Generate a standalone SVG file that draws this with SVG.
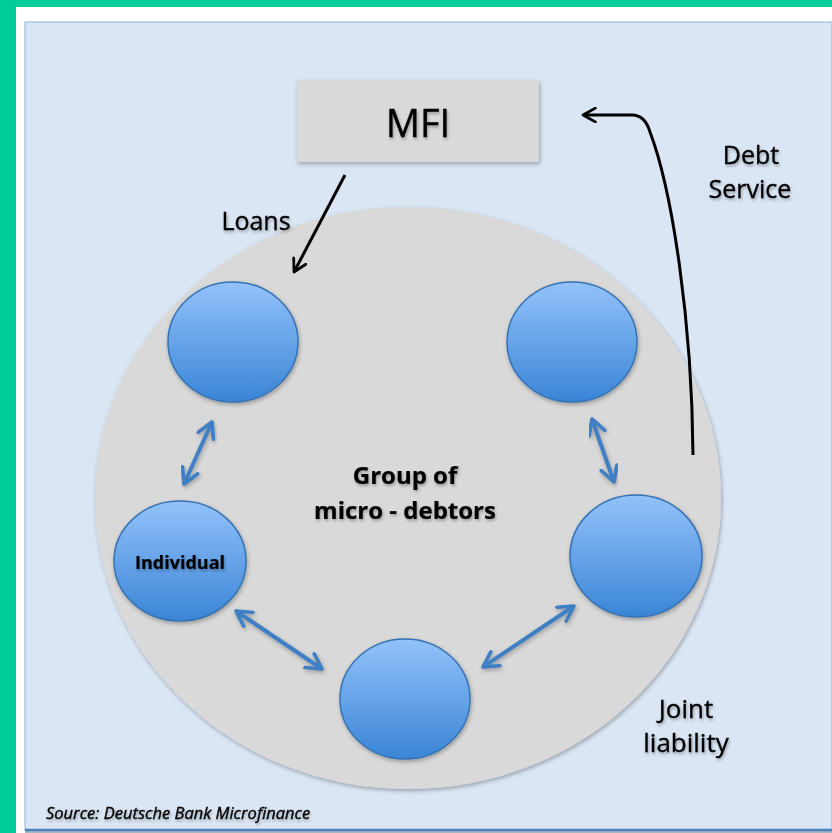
<svg xmlns="http://www.w3.org/2000/svg" width="832" height="833" viewBox="0 0 832 833">
  <defs>
    <linearGradient id="ballFill" x1="0" y1="0" x2="0" y2="1">
      <stop offset="0" stop-color="#93c2fb"/>
      <stop offset="1" stop-color="#3a85d6"/>
    </linearGradient>
    <filter id="softShadow" x="-10%" y="-10%" width="125%" height="125%">
      <feDropShadow dx="1" dy="2" stdDeviation="2" flood-color="#000" flood-opacity="0.3"/>
    </filter>
    <filter id="textShadow" x="-10%" y="-20%" width="120%" height="150%">
      <feDropShadow dx="1" dy="2" stdDeviation="1.5" flood-color="#000" flood-opacity="0.3"/>
    </filter>
    <marker id="openHeadBlack" viewBox="0 0 12 12" refX="10" refY="6" markerWidth="5.5" markerHeight="5.5" orient="auto-start-reverse" markerUnits="strokeWidth">
      <path d="M1,1 L10,6 L1,11" fill="none" stroke="#000" stroke-width="2" stroke-linecap="round" stroke-linejoin="round"/>
    </marker>
    <marker id="openHeadBlue" viewBox="0 0 12 12" refX="10" refY="6" markerWidth="5" markerHeight="5" orient="auto-start-reverse" markerUnits="strokeWidth">
      <path d="M1,1 L10,6 L1,11" fill="none" stroke="#3f7fc4" stroke-width="2.2" stroke-linecap="round" stroke-linejoin="round"/>
    </marker>
    <style>
      .label { font-family: "Open Sans", "Liberation Sans", sans-serif; fill: #000; stroke: #000; stroke-width: 0.35; filter: url(#textShadow); }
      .bold { font-weight: bold; stroke-width: 0.2; }
      .ball { fill: url(#ballFill); stroke: #3572b4; stroke-width: 1.5; filter: url(#softShadow); }
      .link { fill: none; stroke: #3f7fc4; stroke-width: 4; marker-start: url(#openHeadBlue); marker-end: url(#openHeadBlue); filter: url(#softShadow); }
      .flow { fill: none; stroke: #000; stroke-width: 3; marker-end: url(#openHeadBlack); }
    </style>
  </defs>

  <!-- outer frame -->
  <rect x="0" y="0" width="832" height="833" fill="#00cc99"/>
  <rect x="16" y="7" width="816" height="826" fill="#ffffff"/>
  <rect x="25" y="22" width="807" height="811" fill="#a9b6c4"/>
  <rect x="25" y="22" width="807" height="808" fill="#dae6f4" stroke="#94b3d4" stroke-width="1"/>
  <line x1="25" y1="830" x2="832" y2="830" stroke="#4f81bd" stroke-width="2.5"/>

  <!-- group area -->
  <ellipse id="group-area" cx="408" cy="498" rx="313" ry="291" fill="#d9d9d9" filter="url(#softShadow)"/>

  <!-- MFI -->
  <g id="mfi">
    <rect x="297" y="80" width="242" height="82" fill="#d9d9d9" filter="url(#softShadow)"/>
    <text class="label" x="418" y="137" font-size="38" text-anchor="middle">MFI</text>
  </g>

  <!-- members -->
  <g id="member-top-left">
    <ellipse class="ball" cx="233" cy="342" rx="65" ry="60"/>
  </g>
  <g id="member-top-right">
    <ellipse class="ball" cx="572" cy="342" rx="65" ry="60"/>
  </g>
  <g id="member-individual">
    <ellipse class="ball" cx="180" cy="561" rx="66" ry="60"/>
    <text class="label bold" x="180" y="569" font-size="18" text-anchor="middle">Individual</text>
  </g>
  <g id="member-bottom">
    <ellipse class="ball" cx="405" cy="699" rx="65" ry="60"/>
  </g>
  <g id="member-right">
    <ellipse class="ball" cx="636" cy="556" rx="66" ry="61"/>
  </g>

  <!-- connectors -->
  <g id="connectors">
    <path class="flow" d="M345,175 L294,272"/>
    <path class="flow" d="M693,455 C692,320 672,190 650,132 Q645,115 632,115 L583,115"/>
    <path class="link" d="M344,339 L466,339"/>
    <path class="link" d="M592,419 L614,482"/>
    <path class="link" d="M212,422 L184,484"/>
    <path class="link" d="M236,611 L322,669"/>
    <path class="link" d="M483,667 L574,606"/>
  </g>

  <!-- labels -->
  <g id="labels">
    <text class="label" x="256" y="230" font-size="25" text-anchor="middle">Loans</text>
    <text class="label" x="751" y="164" font-size="25" text-anchor="middle">Debt</text>
    <text class="label" x="750" y="198" font-size="25" text-anchor="middle">Service</text>
    <text class="label bold" x="405" y="484" font-size="24" text-anchor="middle">Group of</text>
    <text class="label bold" x="405" y="519" font-size="24" text-anchor="middle">micro - debtors</text>
    <text class="label" x="686" y="718" font-size="26" text-anchor="middle">Joint</text>
    <text class="label" x="686" y="752" font-size="26" text-anchor="middle">liability</text>
    <text class="label" x="46" y="819" font-size="16.5" font-style="italic" stroke-width="0.2">Source: Deutsche Bank Microfinance</text>
  </g>
</svg>
